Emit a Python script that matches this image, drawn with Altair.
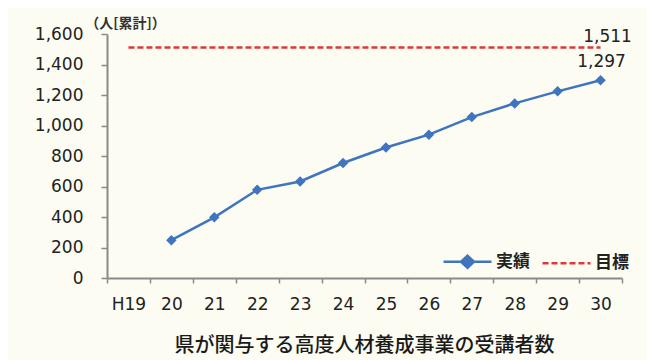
import altair as alt
import pandas as pd

categories = ["H19", "20", "21", "22", "23", "24", "25", "26", "27", "28", "29", "30"]
actual_years = ["20", "21", "22", "23", "24", "25", "26", "27", "28", "29", "30"]
actual_values = [248, 398, 578, 633, 754, 856, 940, 1055, 1145, 1224, 1297]
target_value = 1511
series_names = ["実績", "目標"]

BLUE = "#3f74bf"
RED = "#e0383a"
BG = "#fcfcf2"
NUM_FONT = "DejaVu Sans"
JP_FONT = "Noto Sans CJK JP"

actual_df = pd.DataFrame({"year": actual_years, "value": actual_values, "series": "実績"})
target_df = pd.DataFrame({"year": categories, "value": [target_value] * len(categories), "series": "目標"})
legend_df = pd.DataFrame({"year": ["H19", "H19"], "value": [None, None], "series": series_names})
label_df = pd.DataFrame({
    "year": ["30", "30"],
    "value": [target_value, actual_values[-1]],
    "label": [f"{target_value:,}", f"{actual_values[-1]:,}"],
})

x_enc = alt.X(
    "year:O",
    sort=categories,
    scale=alt.Scale(domain=categories, type="band", paddingInner=0, paddingOuter=0),
    axis=alt.Axis(
        title=None, labelAngle=0, tickBand="extent", tickSize=5, labelPadding=13,
        labelFont=NUM_FONT, labelFontSize=17, labelColor="#222",
        domainColor="#8a8a8a", tickColor="#8a8a8a", domainWidth=2, tickWidth=1.5,
        grid=False,
    ),
)
y_enc = alt.Y(
    "value:Q",
    scale=alt.Scale(domain=[0, 1600], nice=False, zero=True),
    axis=alt.Axis(
        values=list(range(0, 1601, 200)), format=",d", title="（人[累計]）",
        titleAngle=0, titleX=18, titleY=-11, titleAlign="center", titleBaseline="middle",
        titleFont=JP_FONT, titleFontSize=14, titleFontWeight="bold", titleColor="#333",
        labelFont=NUM_FONT, labelFontSize=17, labelColor="#222", labelPadding=18,
        tickSize=6, domainColor="#8a8a8a", tickColor="#8a8a8a", domainWidth=2, tickWidth=1.5,
        grid=False,
    ),
)

target_line = alt.Chart(target_df).mark_line(color=RED, strokeWidth=2.5, strokeDash=[6, 3]).encode(
    x=x_enc, y=y_enc
)
actual_line = alt.Chart(actual_df).mark_line(color=BLUE, strokeWidth=2.5).encode(x=x_enc, y=y_enc)
actual_points = alt.Chart(actual_df).mark_point(
    shape="diamond", filled=True, color=BLUE, size=110, opacity=1
).encode(x=x_enc, y=y_enc)

labels_a = alt.Chart(label_df.iloc[[0]]).mark_text(
    font=NUM_FONT, fontSize=17, color="#222", align="center", baseline="middle", dx=7, dy=-11
).encode(x=x_enc, y=y_enc, text="label:N")
labels_b = alt.Chart(label_df.iloc[[1]]).mark_text(
    font=NUM_FONT, fontSize=17, color="#222", align="center", baseline="middle", dx=1, dy=-18
).encode(x=x_enc, y=y_enc, text="label:N")

line_diamond = "M-1,0L-0.27,0L0,-0.25L0.27,0L1,0L0.27,0L0,0.25L-0.27,0Z"
plain_line = "M-1,0L1,0"

legend_layer = alt.Chart(legend_df).mark_point(strokeWidth=2.5, opacity=1).encode(
    x=x_enc,
    y=y_enc,
    stroke=alt.Stroke(
        "series:N",
        scale=alt.Scale(domain=series_names, range=[BLUE, RED]),
        legend=alt.Legend(
            title=None, orient="none", direction="horizontal", legendX=335, legendY=202,
            symbolSize=2304, symbolStrokeWidth=2.5, labelFont=JP_FONT, labelFontSize=17,
            labelFontWeight="bold", labelColor="#222", labelOffset=3, columnPadding=7,
            symbolOpacity=1,
        ),
    ),
    fill=alt.Fill("series:N", scale=alt.Scale(domain=series_names, range=[BLUE, RED])),
    shape=alt.Shape("series:N", scale=alt.Scale(domain=series_names, range=[line_diamond, plain_line])),
    strokeDash=alt.StrokeDash("series:N", scale=alt.Scale(domain=series_names, range=[[1, 0], [6, 3]])),
)

chart = alt.layer(target_line, actual_line, actual_points, labels_a, labels_b, legend_layer).properties(
    width=515,
    height=244,
    background=BG,
    padding={"left": 99, "top": 26, "right": 25, "bottom": 82},
    autosize=alt.AutoSizeParams(type="none"),
    title=alt.TitleParams(
        "県が関与する高度人材養成事業の受講者数", orient="bottom", font=JP_FONT, fontSize=20,
        fontWeight=500, color="#1a1a1a", offset=24, anchor="middle",
    ),
).configure_view(stroke=None)

chart.save("out.html", embed_options={"renderer": "svg", "actions": False})
